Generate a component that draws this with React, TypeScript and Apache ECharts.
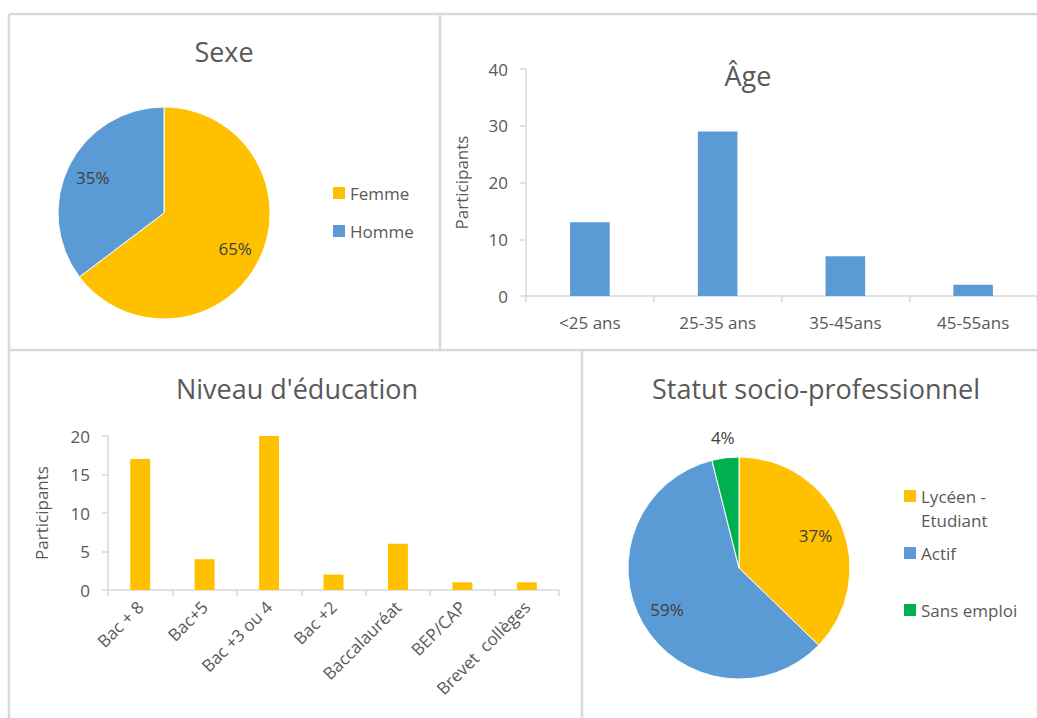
import React, { useEffect, useRef } from "react";
import * as echarts from "echarts";

// ---- Data ----
const sexeCategories = ["Femme", "Homme"];
const sexeCounts = [33, 18];

const ageCategories = ["<25 ans", "25-35 ans", "35-45ans", "45-55ans"];
const ageValues = [13, 29, 7, 2];
const ageAxis = { min: 0, max: 40, interval: 10 };

const educationCategories = [
  "Bac + 8",
  "Bac+5",
  "Bac +3 ou 4",
  "Bac +2",
  "Baccalauréat",
  "BEP/CAP",
  "Brevet  collèges",
];
const educationValues = [17, 4, 20, 2, 6, 1, 1];
const educationAxis = { min: 0, max: 20, interval: 5 };

const statutCategories = ["Lycéen - Etudiant", "Actif", "Sans emploi"];
const statutCounts = [19, 30, 2];
const statutOutsideLabels = ["Sans emploi"];

const titles = ["Sexe", "Âge", "Niveau d'éducation", "Statut socio-professionnel"];
const yAxisName = "Participants";

// ---- Styles ----
const YELLOW = "#FFC000";
const BLUE = "#5B9BD5";
const GREEN = "#00B050";
const FONT = "'Open Sans', 'Noto Sans', sans-serif";
const TITLE_COLOR = "#595959";
const LABEL_COLOR = "#595959";
const DATA_LABEL_COLOR = "#404040";
const AXIS_COLOR = "#d9d9d9";
const BORDER_COLOR = "#d9d9d9";

const pctFormatter = (p: any) => Math.round(p.percent) + "%";

export default function App() {
  const ref = useRef<HTMLDivElement>(null);

  useEffect(() => {
    if (!ref.current) return;
    const chart = echarts.init(ref.current, undefined, { renderer: "svg" });

    const sexeColors = [YELLOW, BLUE];
    const statutColors = [YELLOW, BLUE, GREEN];

    const sexeData = sexeCategories.map((n, i) => ({
      name: n,
      value: sexeCounts[i],
      itemStyle: { color: sexeColors[i] },
    }));
    const statutData = statutCategories.map((n, i) => ({
      name: n,
      value: statutCounts[i],
      itemStyle: { color: statutColors[i] },
    }));

    const overlayCommon = {
      type: "pie",
      silent: true,
      startAngle: 90,
      clockwise: true,
      animation: false,
      emphasis: { disabled: true },
      labelLine: { show: false },
      itemStyle: { color: "rgba(0,0,0,0)", borderWidth: 0 },
      z: 5,
    };

    const labelStyle = {
      fontFamily: FONT,
      fontSize: 17,
      color: DATA_LABEL_COLOR,
      formatter: pctFormatter,
    };

    const titleStyle = { fontFamily: FONT, fontSize: 27, fontWeight: "normal", color: TITLE_COLOR };

    const axisCommonX = {
      type: "category",
      axisLine: { show: true, lineStyle: { color: AXIS_COLOR, width: 1.5 } },
      axisTick: { show: true, length: 6, lineStyle: { color: AXIS_COLOR, width: 1.5 } },
      splitLine: { show: false },
    };
    const axisCommonY = {
      type: "value",
      name: yAxisName,
      nameLocation: "middle",
      nameRotate: 90,
      nameTextStyle: { fontFamily: FONT, fontSize: 17, color: LABEL_COLOR },
      axisLine: { show: true, lineStyle: { color: AXIS_COLOR, width: 1.5 } },
      axisTick: { show: true, length: 6, lineStyle: { color: AXIS_COLOR, width: 1.5 } },
      splitLine: { show: false },
      axisLabel: { fontFamily: FONT, fontSize: 17, color: LABEL_COLOR, margin: 18 },
    };

    const borders = [
      [9, 14, 1037, 14],
      [9, 14, 9, 718],
      [440, 14, 440, 350],
      [9, 350, 1037, 350],
      [582, 350, 582, 718],
    ].map(([x1, y1, x2, y2]) => ({
      type: "line",
      shape: { x1, y1, x2, y2 },
      style: { stroke: BORDER_COLOR, lineWidth: 2.5 },
      silent: true,
    }));

    const option: any = {
      animation: false,
      backgroundColor: "#ffffff",
      textStyle: { fontFamily: FONT },
      graphic: borders,
      title: [
        { text: titles[0], left: 224, top: 38, textAlign: "center", padding: 0, textStyle: titleStyle },
        { text: titles[1], left: 748, top: 62, textAlign: "center", padding: 0, textStyle: titleStyle },
        { text: titles[2], left: 297, top: 375, textAlign: "center", padding: 0, textStyle: titleStyle },
        { text: titles[3], left: 816, top: 375, textAlign: "center", padding: 0, textStyle: titleStyle },
      ],
      legend: [
        {
          data: sexeCategories,
          orient: "vertical",
          left: 333,
          top: 183,
          padding: 0,
          itemWidth: 12,
          itemHeight: 12,
          itemGap: 18,
          icon: "rect",
          selectedMode: false,
          itemStyle: { borderWidth: 0 },
          textStyle: { fontFamily: FONT, fontSize: 17, color: LABEL_COLOR, lineHeight: 20 },
        },
        {
          data: statutCategories,
          orient: "vertical",
          left: 904,
          top: 484,
          padding: 0,
          itemWidth: 12,
          itemHeight: 36,
          itemGap: 9,
          icon: "path://M0,0H12V12H0Z M0,36L0.01,36L0.01,35.99Z",
          selectedMode: false,
          itemStyle: { borderWidth: 0 },
          formatter: (name: string) =>
            name.indexOf(" - ") >= 0 ? name.replace(" - ", " -\n") : name + "\n ",
          textStyle: { fontFamily: FONT, fontSize: 17, color: LABEL_COLOR, lineHeight: 24 },
        },
      ],
      grid: [
        { left: 526, top: 69, width: 511, height: 227, containLabel: false },
        { left: 108, top: 436, width: 451, height: 154, containLabel: false },
      ],
      xAxis: [
        {
          ...axisCommonX,
          gridIndex: 0,
          data: ageCategories,
          axisLabel: { fontFamily: FONT, fontSize: 17, color: LABEL_COLOR, margin: 18, interval: 0 },
        },
        {
          ...axisCommonX,
          gridIndex: 1,
          data: educationCategories,
          axisLabel: {
            fontFamily: FONT,
            fontSize: 17,
            color: LABEL_COLOR,
            margin: 14,
            interval: 0,
            rotate: 45,
          },
        },
      ],
      yAxis: [
        { ...axisCommonY, gridIndex: 0, ...ageAxis, nameGap: 56 },
        { ...axisCommonY, gridIndex: 1, ...educationAxis, nameGap: 58 },
      ],
      series: [
        {
          type: "pie",
          name: titles[0],
          center: [164, 213],
          radius: 106,
          startAngle: 90,
          clockwise: true,
          data: sexeData,
          label: { show: false },
          labelLine: { show: false },
          itemStyle: { borderColor: "#ffffff", borderWidth: 1 },
          emphasis: { disabled: true },
        },
        {
          type: "pie",
          name: titles[3],
          center: [739, 568],
          radius: 111,
          startAngle: 90,
          clockwise: true,
          data: statutData,
          label: { show: false },
          labelLine: { show: false },
          itemStyle: { borderColor: "#ffffff", borderWidth: 1 },
          emphasis: { disabled: true },
        },
        {
          ...overlayCommon,
          name: titles[0] + " labels",
          center: [164, 213],
          radius: [0, 153],
          data: sexeCategories.map((n, i) => ({ name: n, value: sexeCounts[i] })),
          label: { show: true, position: "inside", ...labelStyle },
        },
        {
          ...overlayCommon,
          name: titles[3] + " labels",
          center: [739, 568],
          radius: [0, 160],
          data: statutCategories.map((n, i) => ({
            name: n,
            value: statutCounts[i],
            label: { show: statutOutsideLabels.indexOf(n) < 0 },
          })),
          label: { show: true, position: "inside", ...labelStyle },
        },
        {
          ...overlayCommon,
          name: titles[3] + " outer labels",
          center: [739, 568],
          radius: [0, 258],
          data: statutCategories.map((n, i) => ({
            name: n,
            value: statutCounts[i],
            label: { show: statutOutsideLabels.indexOf(n) >= 0 },
          })),
          label: { show: true, position: "inside", ...labelStyle },
        },
        {
          type: "bar",
          name: titles[1],
          xAxisIndex: 0,
          yAxisIndex: 0,
          data: ageValues,
          barWidth: "31%",
          itemStyle: { color: BLUE },
          emphasis: { disabled: true },
        },
        {
          type: "bar",
          name: titles[2],
          xAxisIndex: 1,
          yAxisIndex: 1,
          data: educationValues,
          barWidth: "31%",
          itemStyle: { color: YELLOW },
          emphasis: { disabled: true },
        },
      ],
    };

    chart.setOption(option);
    return () => {
      chart.dispose();
    };
  }, []);

  return (
    <div
      ref={ref}
      style={{ position: "absolute", left: 0, top: 0, width: 1037, height: 718, background: "#fff" }}
    />
  );
}
